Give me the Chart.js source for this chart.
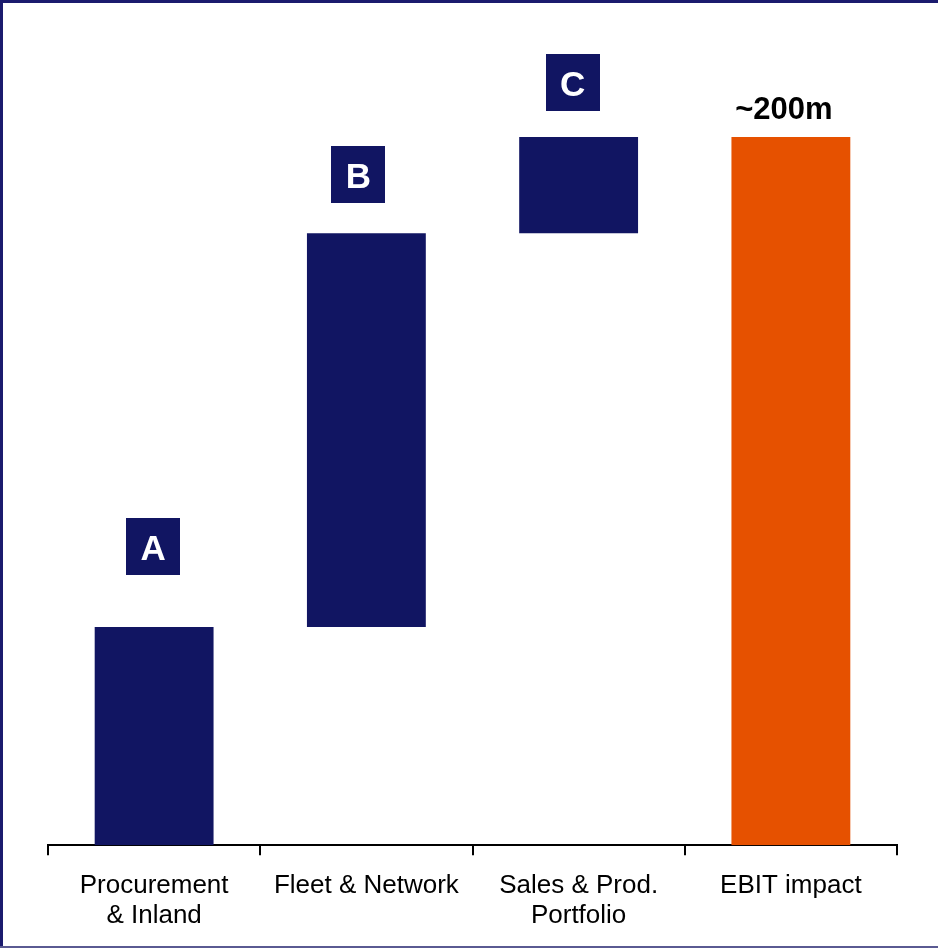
<!DOCTYPE html>
<html>
<head>
<meta charset="utf-8">
<script src="https://cdn.jsdelivr.net/npm/chart.js@4"></script>
<style>
  html, body { margin: 0; padding: 0; background: #fff; }
  canvas { display: block; }
</style>
</head>
<body>
<canvas id="c" width="938" height="948"></canvas>
<script>
// ---- data ----
const categories = [["Procurement", "& Inland"], "Fleet & Network", ["Sales & Prod.", "Portfolio"], "EBIT impact"];
const increments = [61.6, 111.2, 27.2];
const totalValue = 200;
const boxLabels = ["A", "B", "C"];
const totalLabel = "~200m";

// build floating bars
const floating = [];
let run = 0;
for (const v of increments) { floating.push([run, run + v]); run += v; }
floating.push([0, totalValue]);

const NAVY = "#111562";
const ORANGE = "#E65100";
const FONT = "'Liberation Sans', Arial, sans-serif";

const annot = {
  id: "annot",
  afterDatasetsDraw(chart, args, opts) {
    const ctx = chart.ctx;
    const meta = chart.getDatasetMeta(0);
    ctx.save();
    meta.data.forEach((bar, i) => {
      if (i < boxLabels.length) {
        const cx = bar.x + opts.boxDx[i];
        const bottom = bar.y - opts.boxGap[i];
        const w = 54, h = 57;
        ctx.fillStyle = NAVY;
        ctx.fillRect(Math.round(cx - w / 2), Math.round(bottom - h), w, h);
        ctx.fillStyle = "#fff";
        ctx.font = "bold 35px " + FONT;
        ctx.textAlign = "center";
        ctx.textBaseline = "alphabetic";
        ctx.fillText(boxLabels[i], cx, bottom - h / 2 + 13);
      } else {
        ctx.fillStyle = "#000";
        ctx.font = "bold 31px " + FONT;
        ctx.textAlign = "center";
        ctx.textBaseline = "alphabetic";
        ctx.fillText(totalLabel, bar.x - 7, bar.y - 18);
      }
    });
    ctx.restore();
  },
  afterDraw(chart) {
    const ctx = chart.ctx;
    ctx.save();
    ctx.fillStyle = "#1b1b6e";
    ctx.fillRect(0, 0, 938, 3);
    ctx.fillRect(0, 0, 3, 948);
    ctx.fillStyle = "#5a5a92";
    ctx.fillRect(0, 946, 938, 2);
    ctx.restore();
  }
};

new Chart(document.getElementById("c"), {
  type: "bar",
  data: {
    labels: categories,
    datasets: [{
      data: floating,
      backgroundColor: [NAVY, NAVY, NAVY, ORANGE],
      borderWidth: 0,
      barPercentage: 0.56,
      categoryPercentage: 1.0
    }]
  },
  options: {
    responsive: false,
    animation: false,
    layout: { padding: { left: 48, right: 41, top: 6, bottom: 1 } },
    plugins: {
      legend: { display: false },
      tooltip: { enabled: false },
      annot: { boxDx: [-1, -8, -6], boxGap: [52, 30, 26] }
    },
    scales: {
      x: {
        offset: true,
        grid: {
          offset: true,
          drawOnChartArea: false,
          drawTicks: true,
          tickLength: 10,
          color: "#000",
          lineWidth: 2
        },
        border: { display: true, color: "#000", width: 2 },
        ticks: {
          color: "#000",
          padding: 16,
          maxRotation: 0,
          autoSkip: false,
          font: { family: FONT, size: 26, lineHeight: 1.15 }
        }
      },
      y: {
        display: false,
        min: 0,
        max: 237
      }
    }
  },
  plugins: [annot]
});
</script>
</body>
</html>
